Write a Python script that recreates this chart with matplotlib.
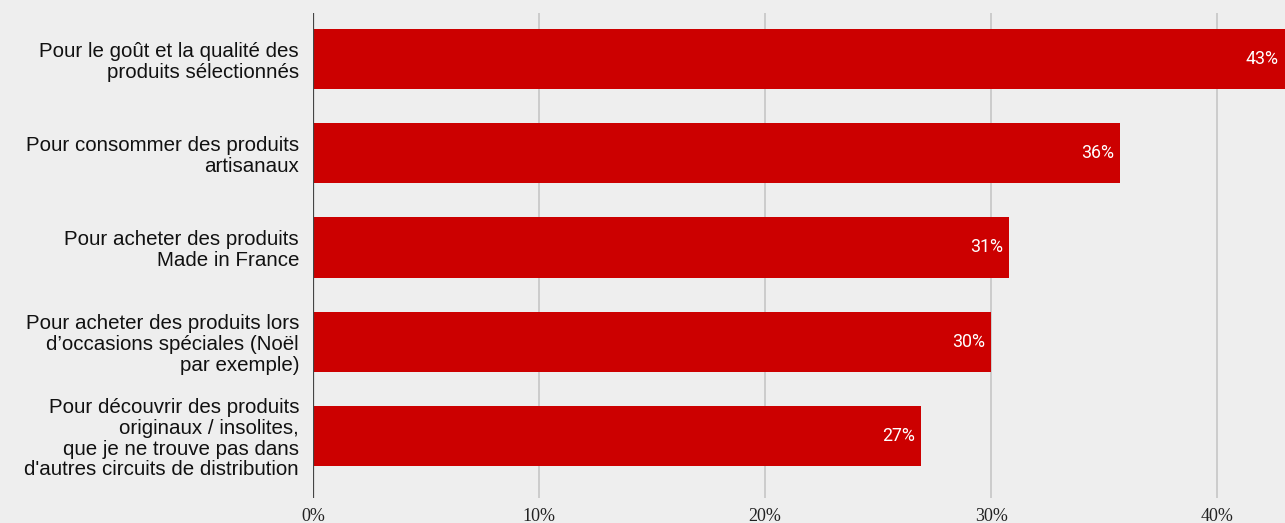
import matplotlib
matplotlib.use("Agg")
import matplotlib.pyplot as plt

categories = [
    "Pour le goût et la qualité des\nproduits sélectionnés",
    "Pour consommer des produits\nartisanaux",
    "Pour acheter des produits\nMade in France",
    "Pour acheter des produits lors\nd\u2019occasions spéciales (Noël\npar exemple)",
    "Pour découvrir des produits\noriginaux / insolites,\nque je ne trouve pas dans\nd'autres circuits de distribution",
]
values = [43.0, 35.7, 30.8, 30.0, 26.9]
value_labels = ["43%", "36%", "31%", "30%", "27%"]
xticks = [0, 10, 20, 30, 40]
xtick_labels = ["0%", "10%", "20%", "30%", "40%"]

bg = "#eeeeee"
red = "#cc0000"

fig = plt.figure(figsize=(12.85, 5.23), dpi=100, facecolor=bg)
ax = fig.add_axes([313/1285, 1 - 498/523, 1 - 313/1285, (498 - 13)/523])
ax.set_facecolor(bg)

ypos = list(range(len(categories)))
ax.barh(ypos, values, height=0.64, color=red, zorder=3)
ax.set_xlim(0, 43)
ax.set_ylim(4.66, -0.49)

ax.set_xticks(xticks)
ax.set_xticklabels(xtick_labels, family="Liberation Serif", fontsize=13, color="#222222")
ax.tick_params(axis="x", length=0, pad=7)
ax.set_yticks(ypos)
ax.set_yticklabels(categories, family="Liberation Sans", fontsize=14.8, color="#111111",
                   linespacing=1.12)
ax.tick_params(axis="y", length=0, pad=10)
ax.grid(axis="x", color="#c6c6c6", linewidth=1.2, zorder=0)
for s in ax.spines.values():
    s.set_visible(False)
ax.axvline(0, color="#444444", linewidth=1.6, zorder=4)

for y, v, lab in zip(ypos, values, value_labels):
    ax.text(v - 0.27, y, lab, ha="right", va="center", color="white",
            family="Roboto", fontsize=12.8, zorder=5)

fig.savefig("out.png", dpi=100, facecolor=bg)
